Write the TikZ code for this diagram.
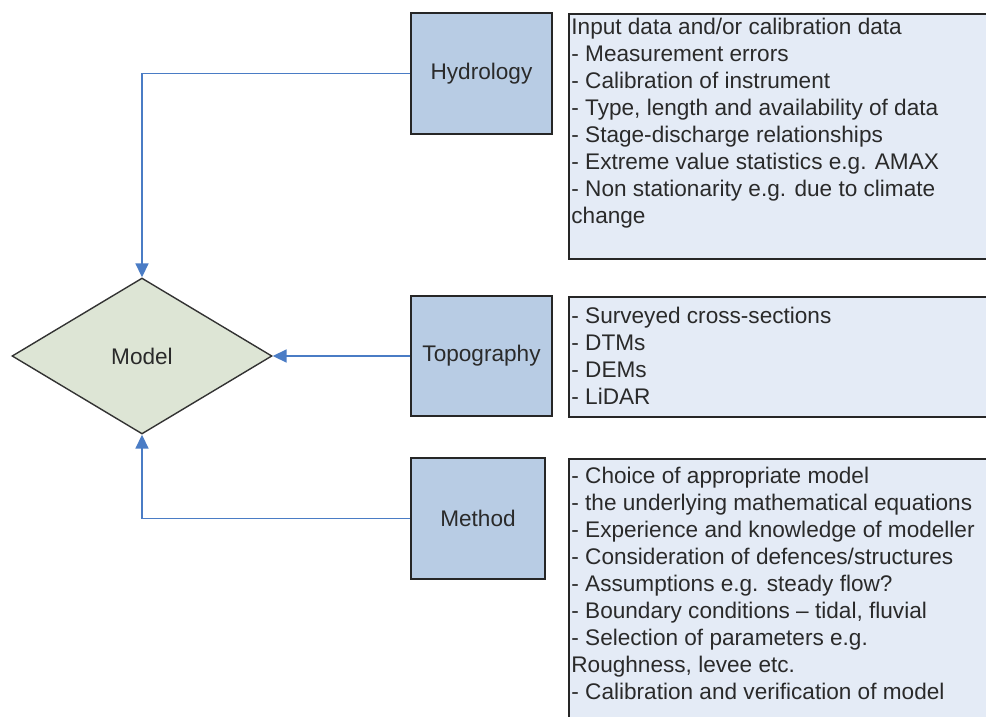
\documentclass[tikz,border=0pt]{standalone}
\usepackage{fontspec}
\setmainfont{Liberation Sans}
\usetikzlibrary{shapes.geometric,arrows.meta}
\definecolor{boxblue}{HTML}{B8CCE4}
\definecolor{notefill}{HTML}{E4EBF6}
\definecolor{modelfill}{HTML}{DDE5D5}
\definecolor{arrowblue}{HTML}{4A7CC5}
\definecolor{txt}{HTML}{2A2A2A}
\begin{document}
\begin{tikzpicture}[x=0.5pt,y=-0.5pt,
  every node/.style={font=\fontsize{11.3}{13.5}\selectfont, text=txt},
  srcbox/.style={draw=black!85, line width=0.9pt, fill=boxblue, rectangle, inner sep=0pt},
  notebox/.style={draw=black!85, line width=0.9pt, fill=notefill, rectangle, inner sep=0pt, anchor=north west},
  notetext/.style={align=left, anchor=north west, inner sep=0pt},
  modelshape/.style={diamond, draw=black!80, line width=0.7pt, fill=modelfill, minimum width=130pt, minimum height=78pt, inner sep=0pt},
  link/.style={draw=arrowblue, line width=0.9pt, -{Triangle[length=7pt,width=6.5pt]}}
]
\clip (0,0) rectangle (986,717);
\fill[white] (0,0) rectangle (986,717);

\node[srcbox, minimum width=70.5pt, minimum height=60.5pt] (hyd) at (481.5,73.5) {Hydrology};
\node[srcbox, minimum width=70.5pt, minimum height=60pt] (topo) at (481.5,356) {Topography};
\node[srcbox, minimum width=67pt, minimum height=60.5pt] (meth) at (478,518.5) {Method};
\node[modelshape] (model) at (142,356) {Model};

\node[notebox, minimum width=212pt, minimum height=122.5pt] (n1) at (568,13) {};
\node[notetext] (t1) at (571,15) {\strut Input data and/or calibration data\\
- Measurement errors\\
- Calibration of instrument\\
- Type, length and availability of data\\
- Stage-discharge relationships\\
- Extreme value statistics e.g. AMAX\\
- Non stationarity e.g. due to climate\\
change};

\node[notebox, minimum width=212pt, minimum height=60pt] (n2) at (568,296) {};
\node[notetext] (t2) at (571,304) {\strut - Surveyed cross-sections\\
- DTMs\\
- DEMs\\
- LiDAR};

\node[notebox, minimum width=212pt, minimum height=140pt] (n3) at (568,458) {};
\node[notetext] (t3) at (571,464) {\strut - Choice of appropriate model\\
- the underlying mathematical equations\\
- Experience and knowledge of modeller\\
- Consideration of defences/structures\\
- Assumptions e.g. steady flow?\\
- Boundary conditions -- tidal, fluvial\\
- Selection of parameters e.g.\\
Roughness, levee etc.\\
- Calibration and verification of model};

\draw[link] (hyd.west) -| (model.north);
\draw[link] (topo.west) -- (model.east);
\draw[link] (meth.west) -| (model.south);
\end{tikzpicture}
\end{document}
